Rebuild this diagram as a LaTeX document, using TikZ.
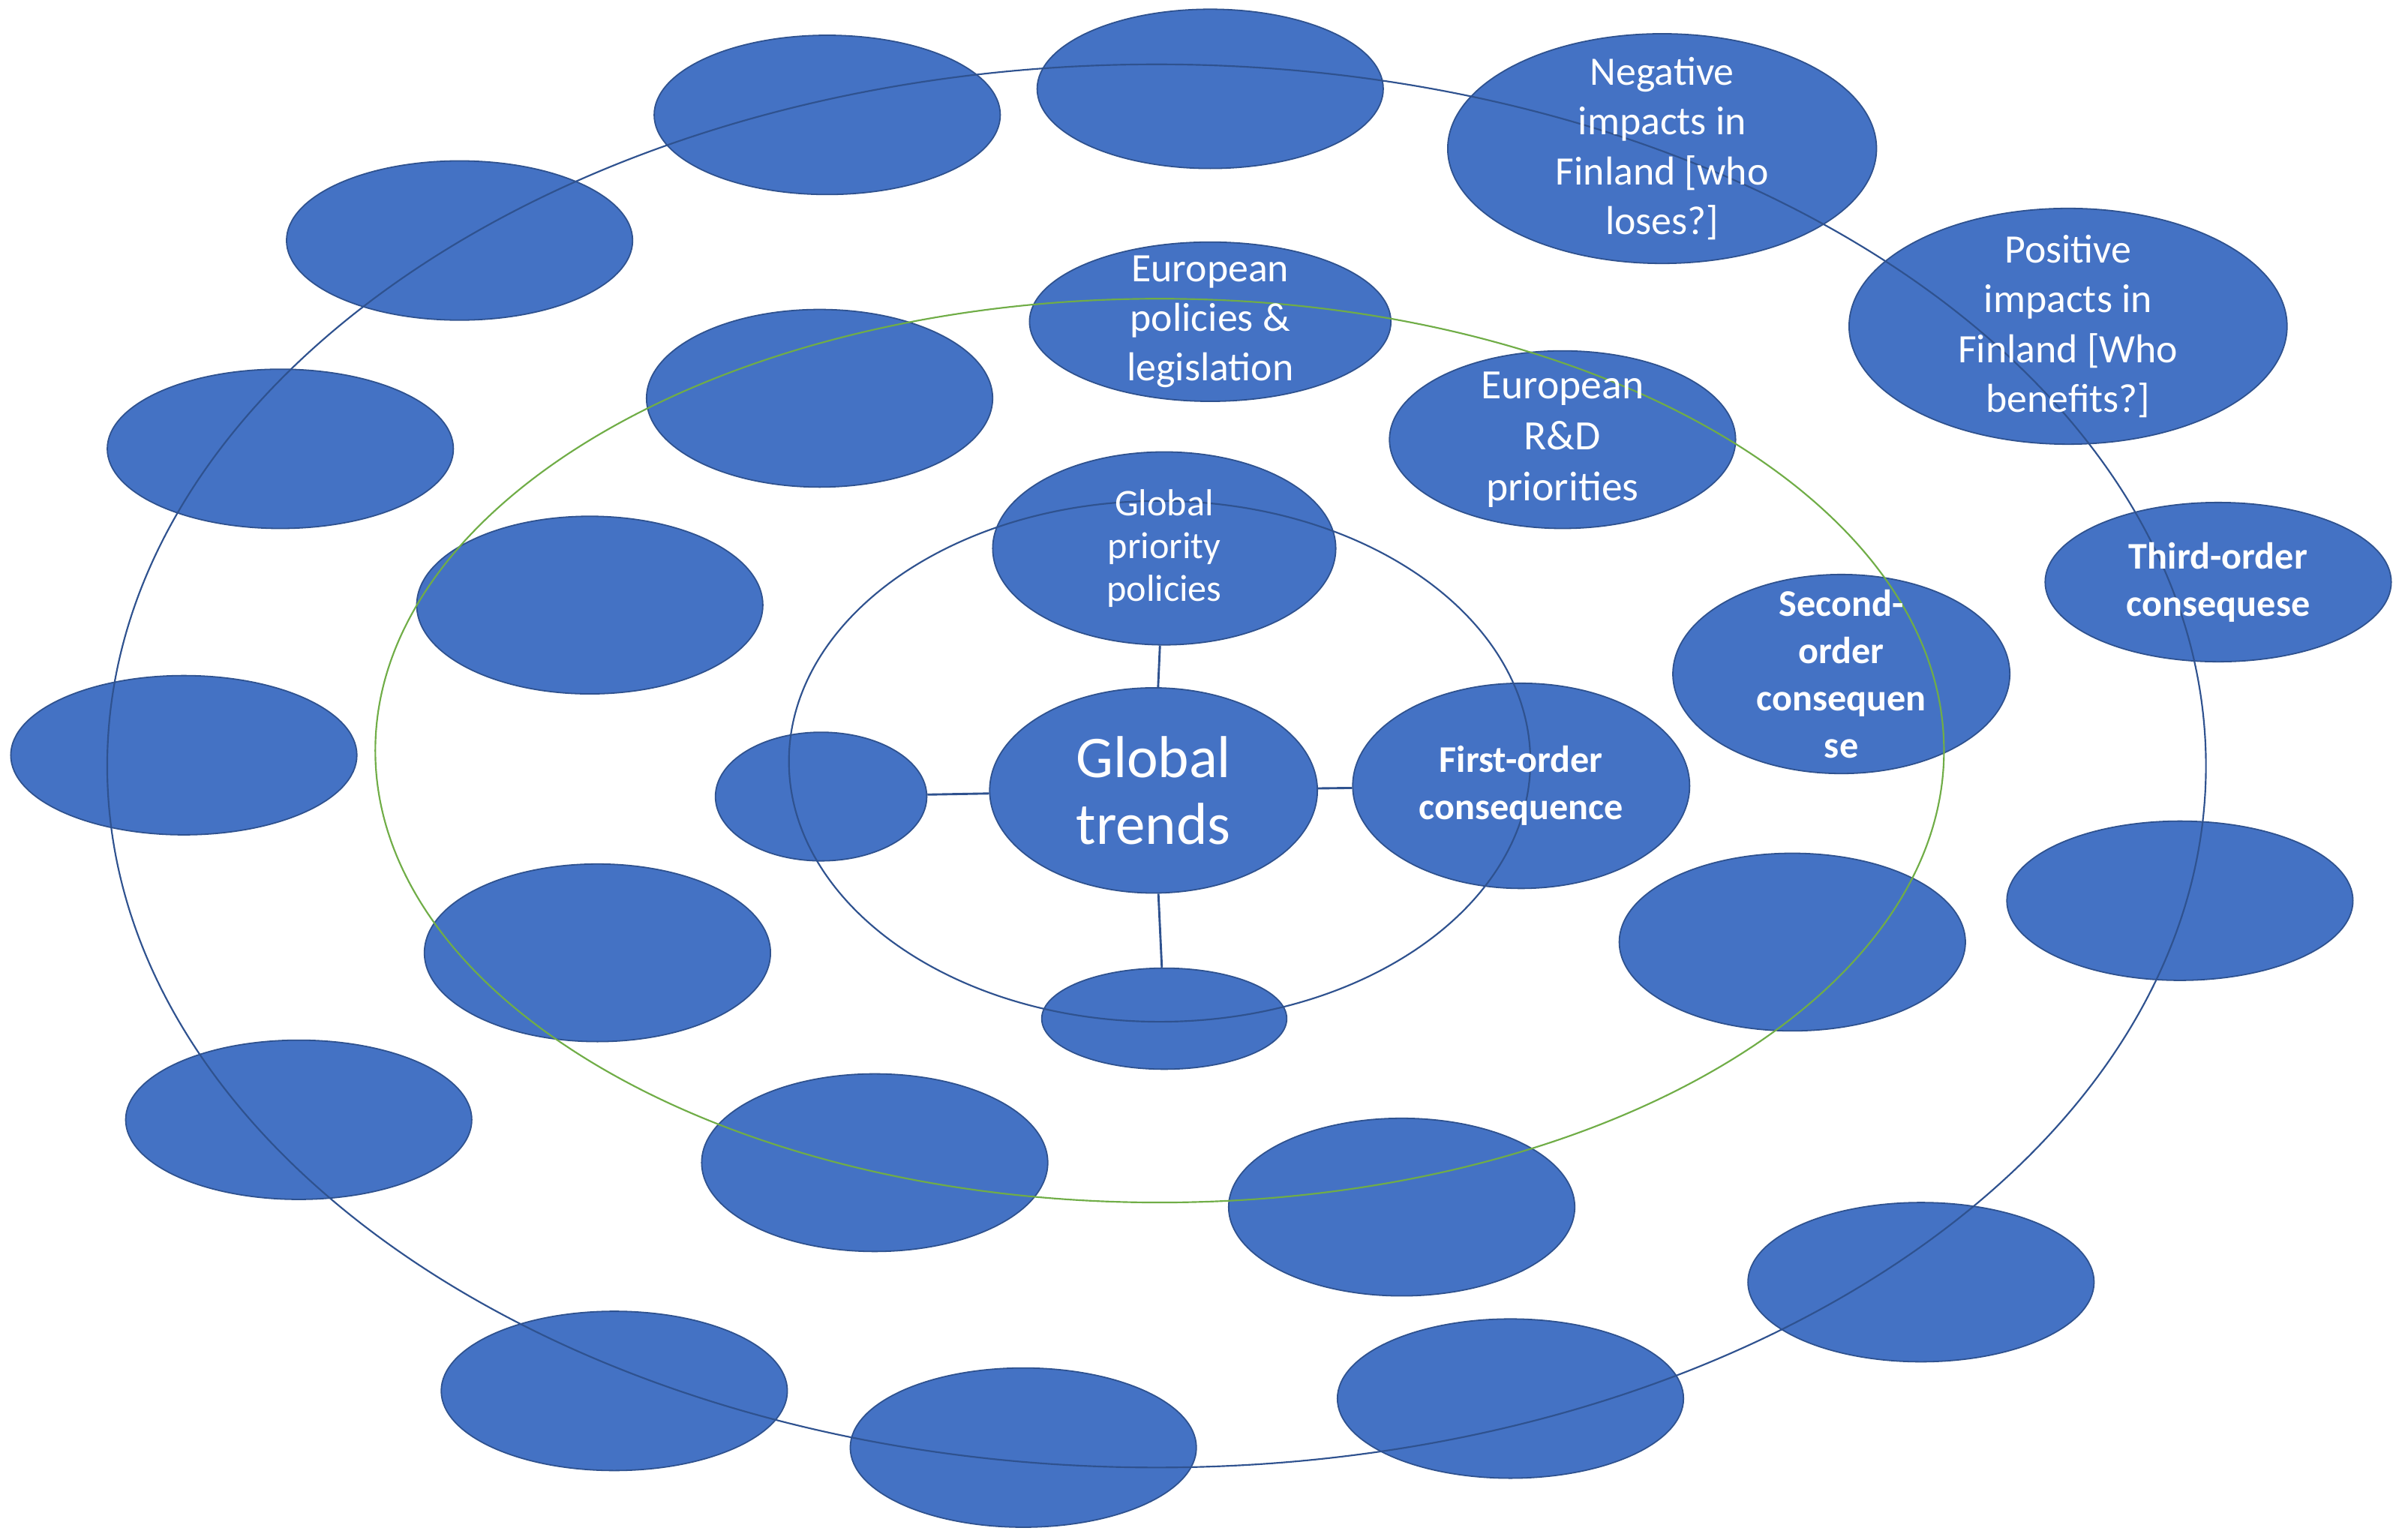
\documentclass[tikz,border=0pt]{standalone}
\usepackage{fontspec}
\setmainfont{Carlito}
\usetikzlibrary{shapes.geometric}
\definecolor{blobfill}{HTML}{4472C4}
\definecolor{blobline}{HTML}{2F528F}
\definecolor{ringgreen}{HTML}{70AD47}
\tikzset{
  blob/.style 2 args={ellipse, fill=blobfill, draw=blobline, line width=0.5pt, inner sep=0pt,
    minimum width=#1*0.04cm, minimum height=#2*0.04cm},
  lbl/.style={text=white, align=center, font=\fontsize{15}{18.5}\selectfont},
  blbl/.style={text=white, align=center, font=\bfseries\fontsize{14}{17.5}\selectfont},
  ring/.style={draw=blobline, line width=0.6pt},
  link/.style={draw=blobline, line width=0.8pt}
}
\begin{document}
\begin{tikzpicture}[x=0.02cm,y=-0.02cm]
\useasboundingbox (0,0) rectangle (1568,1005);
\node[blob={113}{52}] (n1) at (540,75) {};
\node[blob={113}{52}] (n2) at (790,58) {};
\node[blob={140}{75}] (neg) at (1085,97) {};
\node[blob={113}{52}] (n4) at (300,157) {};
\node[blob={143}{77}] (pos) at (1350,213) {};
\node[blob={118}{52}] (eup) at (790,210) {};
\node[blob={113}{58}] (n7) at (535,260) {};
\node[blob={113}{58}] (eurd) at (1020,287) {};
\node[blob={113}{52}] (n9) at (183,293) {};
\node[blob={112}{63}] (gpp) at (760,358) {};
\node[blob={113}{52}] (third) at (1448,380) {};
\node[blob={113}{58}] (n12) at (385,395) {};
\node[blob={110}{65}] (second) at (1202,440) {};
\node[blob={113}{52}] (n14) at (120,493) {};
\node[blob={69}{42}] (left) at (536,520) {};
\node[blob={107}{67}] (gt) at (753,516) {};
\node[blob={110}{67}] (first) at (993,513) {};
\node[blob={113}{58}] (n18) at (1170,615) {};
\node[blob={113}{52}] (n19) at (1423,588) {};
\node[blob={113}{58}] (n20) at (390,622) {};
\node[blob={80}{33}] (bottom) at (760,665) {};
\node[blob={113}{52}] (n22) at (195,731) {};
\node[blob={113}{58}] (n23) at (571,759) {};
\node[blob={113}{58}] (n24) at (915,788) {};
\node[blob={113}{52}] (n25) at (1254,837) {};
\node[blob={113}{52}] (n26) at (401,908) {};
\node[blob={113}{52}] (n27) at (668,945) {};
\node[blob={113}{52}] (n28) at (986,913) {};
\draw[link] (gt) -- (gpp);
\draw[link] (gt) -- (left);
\draw[link] (gt) -- (first);
\draw[link] (gt) -- (bottom);
\draw[ring] (755,500) ellipse [x radius=685, y radius=458];
\draw[draw=ringgreen, line width=0.6pt] (757,490) ellipse [x radius=512, y radius=295];
\draw[ring] (757,497) ellipse [x radius=242, y radius=170];
\node[lbl] at (neg) {Negative\\impacts in\\Finland [who\\loses?]};
\node[lbl] at (pos) {Positive\\impacts in\\Finland [Who\\benefits?]};
\node[lbl] at (eup) {European\\policies \&\\legislation};
\node[lbl, font=\fontsize{15.5}{19}\selectfont] at (eurd) {European\\R\&D\\priorities};
\node[lbl, font=\fontsize{14}{16}\selectfont] at (gpp) {Global\\priority\\policies};
\node[blbl] at (third) {Third-order\\consequese};
\node[blbl] at (second) {Second-\\order\\consequen\\se};
\node[lbl, font=\fontsize{22}{25}\selectfont] at (gt) {Global\\trends};
\node[blbl] at (first) {First-order\\consequence};
\end{tikzpicture}
\end{document}
